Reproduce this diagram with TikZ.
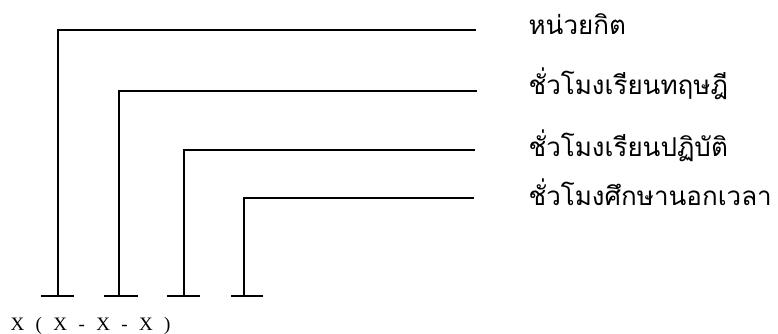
\documentclass[tikz,border=0pt]{standalone}
\usepackage{fontspec}
\newfontfamily\thaifont[Script=Thai]{Loma}
\newfontfamily\codefont[LetterSpace=35]{Liberation Serif}
\begin{document}
\begin{tikzpicture}[x=1pt,y=-1pt,line width=1.2pt,
  lbl/.style={anchor=base west,inner sep=0pt,font=\thaifont\fontsize{26}{30}\selectfont}]
  \useasboundingbox (0,0) rectangle (778,334);
  \node[lbl] (credit) at (528,35) {หน่วยกิต};
  \node[lbl] (theory) at (528,95) {ชั่วโมงเรียนทฤษฎี};
  \node[lbl] (practice) at (528,156) {ชั่วโมงเรียนปฏิบัติ};
  \node[lbl] (self) at (528,205) {ชั่วโมงศึกษานอกเวลา};
  \node[anchor=base west,inner sep=0pt,font=\codefont\fontsize{19}{22}\selectfont] (code) at (10,330) {X ( X - X - X )};
  \coordinate (e1) at (476,30);
  \coordinate (e2) at (477,91);
  \coordinate (e3) at (475,150);
  \coordinate (e4) at (474,198);
  \coordinate (t1) at (58,296);
  \coordinate (t2) at (119,296);
  \coordinate (t3) at (184,296);
  \coordinate (t4) at (244,296);
  \draw (41,296) -- (74,296);
  \draw (104,296) -- (138,296);
  \draw (167,296) -- (200,296);
  \draw (231,296) -- (263,296);
  \draw (t1) |- (e1);
  \draw (t2) |- (e2);
  \draw (t3) |- (e3);
  \draw (t4) |- (e4);
\end{tikzpicture}
\end{document}
